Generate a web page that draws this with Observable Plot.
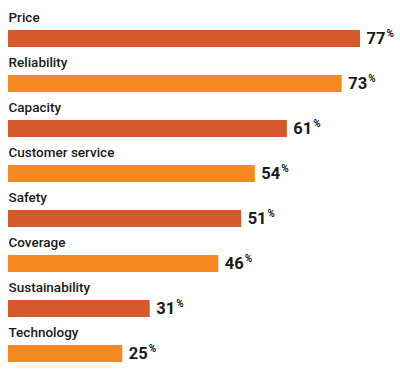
<!DOCTYPE html>
<html>
<head>
<meta charset="utf-8">
<script src="https://cdn.jsdelivr.net/npm/d3@7"></script>
<script src="https://cdn.jsdelivr.net/npm/@observablehq/plot@0.6"></script>
<style>
  html, body { margin: 0; padding: 0; background: #fff; }
  #chart svg { display: block; }
</style>
</head>
<body>
<div id="chart"></div>
<script>
const categories = ["Price", "Reliability", "Capacity", "Customer service", "Safety", "Coverage", "Sustainability", "Technology"];
const values = [77, 73, 61, 54, 51, 46, 31, 25];
const colors = ["#D5592A", "#F58A22"];

const data = categories.map((c, i) => ({category: c, value: values[i], shade: i % 2}));

const chart = Plot.plot({
  width: 400,
  height: 375,
  marginTop: 0, marginBottom: 0, marginLeft: 0, marginRight: 0,
  style: {fontFamily: "Roboto, sans-serif", background: "#fff"},
  x: {domain: [0, 77], range: [8, 360], axis: null},
  y: {domain: categories, range: [16, 376], padding: 0, axis: null},
  color: {domain: [0, 1], range: colors},
  marks: [
    Plot.barX(data, {x: "value", y: "category", fill: "shade", insetTop: 14, insetBottom: 14}),
    Plot.text(data, {x: 0, y: "category", text: "category", textAnchor: "start", lineAnchor: "bottom", dx: 0, dy: -17.5, fontSize: 13.5, fontWeight: 500, fill: "#1a1a1a"}),
    Plot.text(data, {x: "value", y: "category", text: d => String(d.value), textAnchor: "start", lineAnchor: "bottom", dx: 6, dy: 5, fontSize: 16.5, fontWeight: 700, fill: "#1a1a1a", letterSpacing: "-0.5px", className: "vals"})
  ]
});

d3.select(chart).selectAll(".vals text").each(function() {
  d3.select(this).append("tspan").attr("dx", 1).attr("dy", -7).attr("font-size", 10).attr("font-weight", 700).attr("letter-spacing", 0).text("%");
});

document.getElementById("chart").appendChild(chart);
</script>
</body>
</html>
